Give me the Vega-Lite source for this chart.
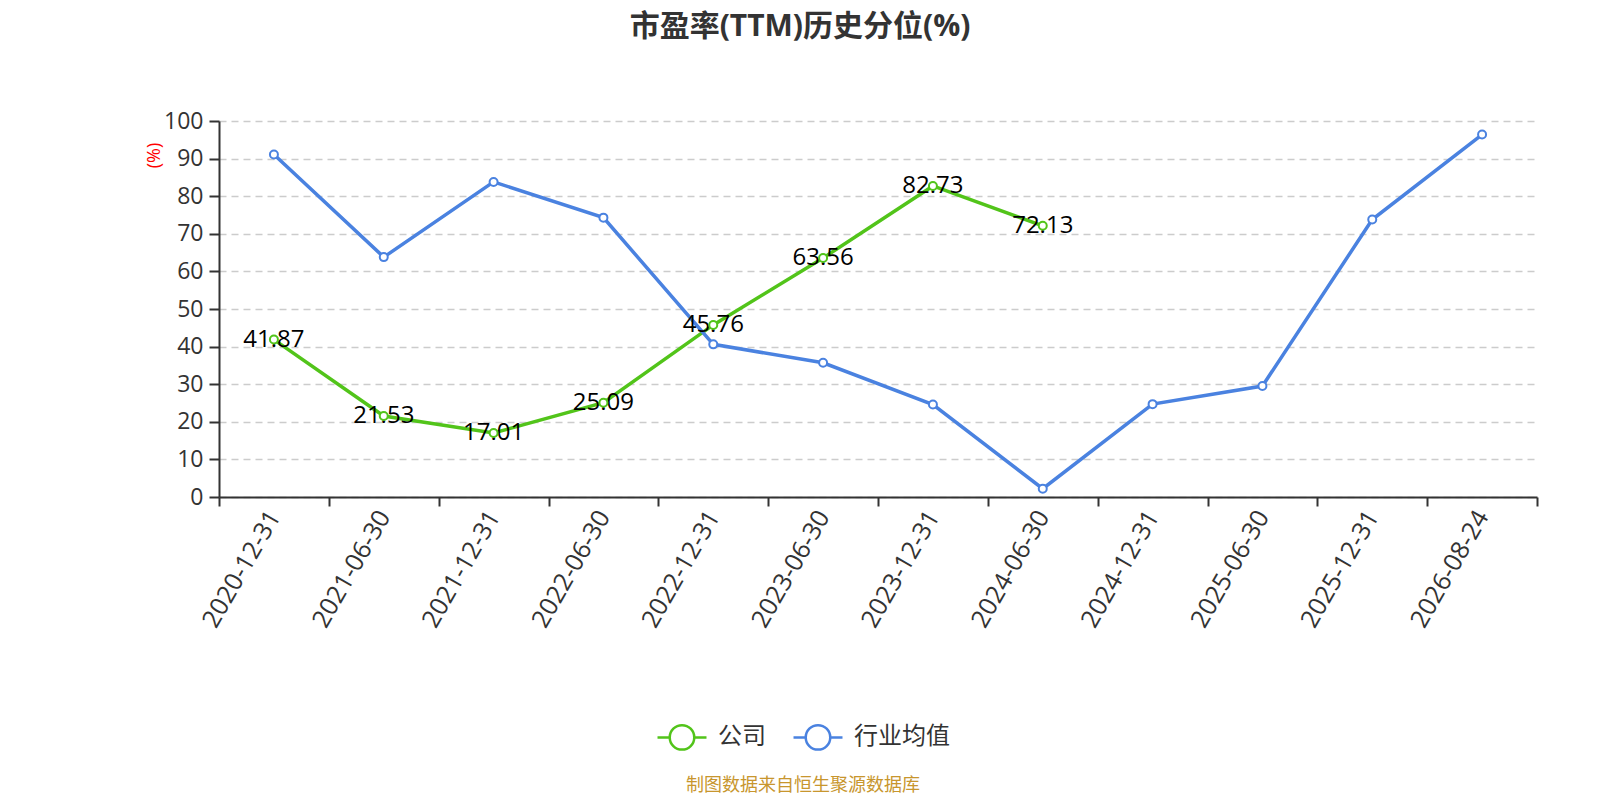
{
  "$schema": "https://vega.github.io/schema/vega-lite/v6.json",
  "width": 1318,
  "height": 376,
  "autosize": "none",
  "padding": {"left": 219, "top": 121, "right": 63, "bottom": 303},
  "background": "#ffffff",
  "title": {
    "text": "市盈率(TTM)历史分位(%)",
    "anchor": "middle",
    "frame": "group",
    "dx": -78,
    "offset": 68,
    "fontSize": 30,
    "fontWeight": "bold",
    "color": "#333333",
    "font": "Open Sans, Noto Sans CJK SC"
  },
  "data": {
    "values": [
      {"date": "2020-12-31", "series": "公司", "value": 41.87},
      {"date": "2021-06-30", "series": "公司", "value": 21.53},
      {"date": "2021-12-31", "series": "公司", "value": 17.01},
      {"date": "2022-06-30", "series": "公司", "value": 25.09},
      {"date": "2022-12-31", "series": "公司", "value": 45.76},
      {"date": "2023-06-30", "series": "公司", "value": 63.56},
      {"date": "2023-12-31", "series": "公司", "value": 82.73},
      {"date": "2024-06-30", "series": "公司", "value": 72.13},
      {"date": "2020-12-31", "series": "行业均值", "value": 91.1},
      {"date": "2021-06-30", "series": "行业均值", "value": 63.8},
      {"date": "2021-12-31", "series": "行业均值", "value": 83.8},
      {"date": "2022-06-30", "series": "行业均值", "value": 74.3},
      {"date": "2022-12-31", "series": "行业均值", "value": 40.6},
      {"date": "2023-06-30", "series": "行业均值", "value": 35.7},
      {"date": "2023-12-31", "series": "行业均值", "value": 24.6},
      {"date": "2024-06-30", "series": "行业均值", "value": 2.2},
      {"date": "2024-12-31", "series": "行业均值", "value": 24.7},
      {"date": "2025-06-30", "series": "行业均值", "value": 29.5},
      {"date": "2025-12-31", "series": "行业均值", "value": 73.8},
      {"date": "2026-08-24", "series": "行业均值", "value": 96.4}
    ]
  },
  "encoding": {
    "x": {
      "field": "date",
      "type": "ordinal",
      "bandPosition": 0.5,
      "scale": {"type": "band", "paddingInner": 0, "paddingOuter": 0},
      "axis": {
        "title": null,
        "labelAngle": -60,
        "labelFontSize": 25,
        "labelColor": "#333333",
        "labelPadding": 6,
        "tickBand": "extent",
        "tickSize": 9,
        "tickColor": "#333333",
        "tickWidth": 2,
        "domainColor": "#333333",
        "domainWidth": 2,
        "grid": false
      }
    },
    "y": {
      "field": "value",
      "type": "quantitative",
      "scale": {"domain": [0, 100], "nice": false},
      "axis": {
        "title": "(%)",
        "titleColor": "#ff0000",
        "titleFontSize": 18,
        "titleFontWeight": "normal",
        "titleX": -56,
        "titleY": 34,
        "titleAngle": -90,
        "values": [0, 10, 20, 30, 40, 50, 60, 70, 80, 90, 100],
        "labelFontSize": 23,
        "labelColor": "#333333",
        "labelPadding": 6,
        "tickSize": 10,
        "tickColor": "#333333",
        "tickWidth": 2,
        "domainColor": "#333333",
        "domainWidth": 2,
        "grid": true,
        "gridColor": "#cccccc",
        "gridDash": [7, 5],
        "gridWidth": 1.5
      }
    },
    "color": {
      "field": "series",
      "type": "nominal",
      "scale": {"domain": ["公司", "行业均值"], "range": ["#52c41a", "#4a82e0"]},
      "legend": {
        "orient": "none",
        "legendX": 437,
        "legendY": 590,
        "direction": "horizontal",
        "title": "制图数据来自恒生聚源数据库",
        "titleOrient": "bottom",
        "titleAnchor": "middle",
        "titleFontSize": 18,
        "titleFontWeight": "normal",
        "titleColor": "#c8962e",
        "titlePadding": 22,
        "titleLimit": 500,
        "symbolType": "M-1,0L-0.5,0M0.5,0L1,0M-0.5,0A0.5,0.5,0,1,1,0.5,0A0.5,0.5,0,1,1,-0.5,0Z",
        "symbolSize": 2400,
        "symbolStrokeWidth": 2.5,
        "symbolFillColor": "#ffffff",
        "labelFontSize": 24,
        "labelColor": "#333333",
        "labelOffset": 10,
        "columnPadding": 22
      }
    }
  },
  "layer": [
    {
      "mark": {"type": "line", "strokeWidth": 3.5}
    },
    {
      "transform": [{"filter": "datum.series == '公司'"}],
      "mark": {"type": "text", "fontSize": 24, "align": "center", "baseline": "middle", "color": "#000000"},
      "encoding": {
        "text": {"field": "value", "type": "quantitative", "format": ".2f"},
        "color": {"value": "#000000"}
      }
    },
    {
      "mark": {"type": "point", "filled": false, "fill": "#ffffff", "size": 64, "strokeWidth": 2, "opacity": 1}
    }
  ],
  "config": {
    "font": "Open Sans, Noto Sans CJK SC",
    "view": {"stroke": null}
  }
}
